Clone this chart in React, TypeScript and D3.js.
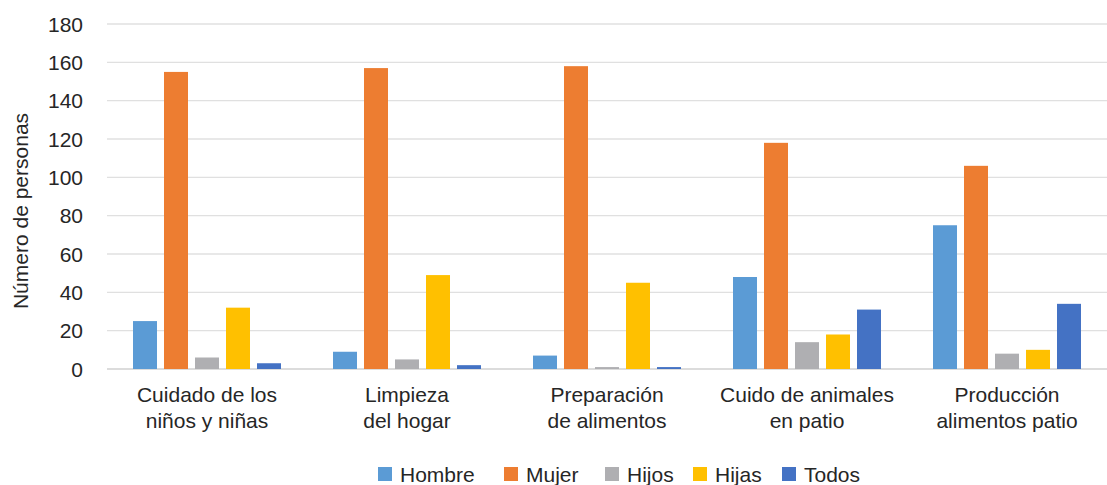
import React, { useEffect, useRef } from 'react';
import * as d3 from 'd3';

const categories = [
  ['Cuidado de los', 'niños y niñas'],
  ['Limpieza', 'del hogar'],
  ['Preparación', 'de alimentos'],
  ['Cuido de animales', 'en patio'],
  ['Producción', 'alimentos patio'],
];
const seriesNames = ['Hombre', 'Mujer', 'Hijos', 'Hijas', 'Todos'];
const seriesColors = ['#5B9BD5', '#ED7D31', '#AFAFB2', '#FFC000', '#4472C4'];
const hombre = [25, 9, 7, 48, 75];
const mujer = [155, 157, 158, 118, 106];
const hijos = [6, 5, 1, 14, 8];
const hijas = [32, 49, 45, 18, 10];
const todos = [3, 2, 1, 31, 34];
const yTicks = [0, 20, 40, 60, 80, 100, 120, 140, 160, 180];

const seriesValues = [hombre, mujer, hijos, hijas, todos];

const W = 1107;
const H = 485;
const FONT = '"Liberation Sans", Arial, sans-serif';
const FS = 21;
// legend swatch positions (layout)
const legendX = [378, 504, 605, 693, 782];

export default function App() {
  const svgRef = useRef<SVGSVGElement>(null);

  useEffect(() => {
    if (!svgRef.current) return;
    const svg = d3.select(svgRef.current);
    svg.selectAll('*').remove();

    const left = 107, right = 1107, top = 24, bottom = 369;

    const x0 = d3.scaleBand<number>()
      .domain(categories.map((_, i) => i))
      .range([left, right]);
    const x1 = d3.scaleBand<string>()
      .domain(seriesNames)
      .range([26, 174])
      .paddingInner(0.226);
    const y = d3.scaleLinear().domain([0, 180]).range([bottom, top]);

    // gridlines
    svg.append('g')
      .selectAll('line')
      .data(yTicks)
      .join('line')
      .attr('x1', left)
      .attr('x2', right)
      .attr('y1', d => y(d))
      .attr('y2', d => y(d))
      .attr('stroke', d => (d === 0 ? '#d0d0d0' : '#e0e0e0'))
      .attr('stroke-width', 1.3);

    // tick labels
    svg.append('g')
      .selectAll('text')
      .data(yTicks)
      .join('text')
      .attr('x', 83)
      .attr('y', d => y(d))
      .attr('dy', '0.36em')
      .attr('text-anchor', 'end')
      .attr('font-family', FONT)
      .attr('font-size', FS)
      .attr('fill', '#262626')
      .text(d => d);

    // axis title
    svg.append('text')
      .attr('transform', `translate(28,211) rotate(-90)`)
      .attr('text-anchor', 'middle')
      .attr('font-family', FONT)
      .attr('font-size', FS)
      .attr('fill', '#262626')
      .text('Número de personas');

    // bars
    const groups = svg.append('g')
      .selectAll('g')
      .data(categories.map((_, i) => i))
      .join('g')
      .attr('transform', i => `translate(${x0(i)},0)`);

    groups.selectAll('rect')
      .data(i => seriesNames.map((s, k) => ({ s, k, v: seriesValues[k][i] })))
      .join('rect')
      .attr('x', d => x1(d.s)!)
      .attr('width', x1.bandwidth())
      .attr('y', d => y(d.v))
      .attr('height', d => y(0) - y(d.v))
      .attr('fill', d => seriesColors[d.k]);

    // category labels
    groups.each(function (i) {
      const t = d3.select(this).append('text')
        .attr('text-anchor', 'middle')
        .attr('font-family', FONT)
        .attr('font-size', FS)
        .attr('fill', '#262626');
      categories[i].forEach((line, j) => {
        t.append('tspan')
          .attr('x', x0.bandwidth() / 2)
          .attr('y', 402 + j * 26)
          .text(line);
      });
    });

    // legend
    const legend = svg.append('g')
      .selectAll('g')
      .data(seriesNames)
      .join('g')
      .attr('transform', (_, k) => `translate(${legendX[k]},0)`);
    legend.append('rect')
      .attr('y', 467)
      .attr('width', 14)
      .attr('height', 14)
      .attr('fill', (_, k) => seriesColors[k]);
    legend.append('text')
      .attr('x', 22)
      .attr('y', 482)
      .attr('font-family', FONT)
      .attr('font-size', FS)
      .attr('fill', '#262626')
      .text(d => d);
  }, []);

  return (
    <svg
      ref={svgRef}
      width={W}
      height={H}
      viewBox={`0 0 ${W} ${H}`}
      style={{ position: 'absolute', left: 0, top: 0, background: '#fff' }}
    />
  );
}
